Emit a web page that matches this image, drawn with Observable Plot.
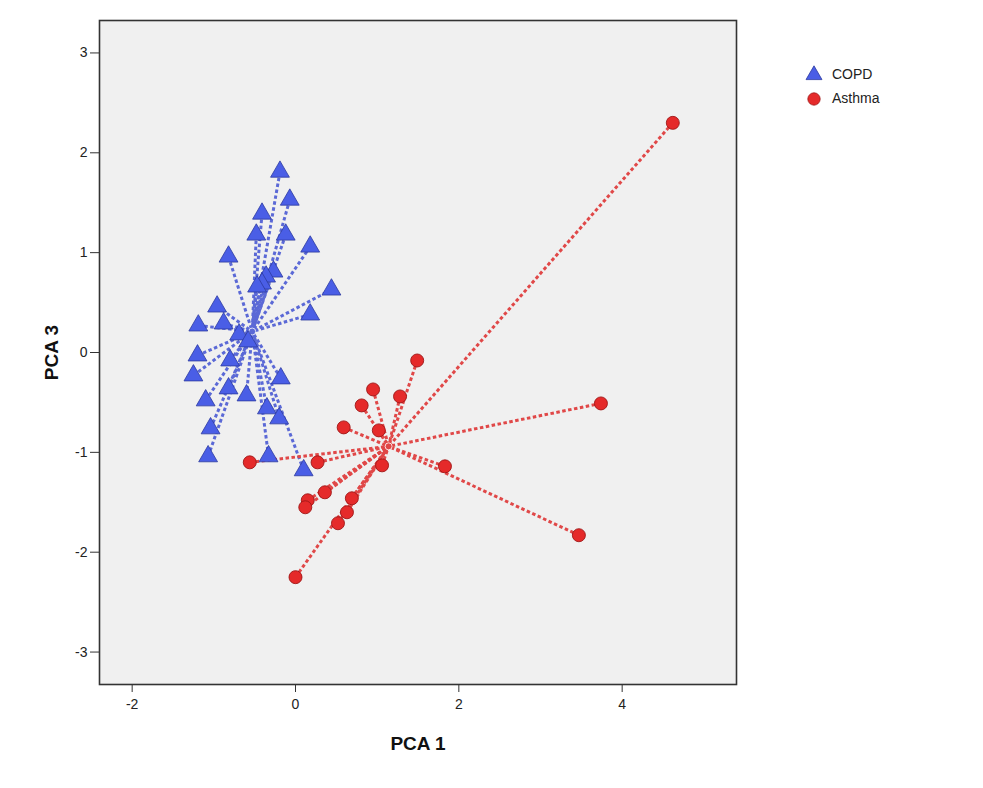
<!DOCTYPE html>
<html>
<head>
<meta charset="utf-8">
<script src="https://cdn.jsdelivr.net/npm/d3@7"></script>
<script src="https://cdn.jsdelivr.net/npm/@observablehq/plot@0.6"></script>
<style>
  html, body { margin: 0; padding: 0; background: #fff; }
  #wrap { position: relative; width: 983px; height: 788px; font-family: Arial, "Liberation Sans", sans-serif; }
  #legend { position: absolute; left: 804px; top: 62px; font-size: 14px; color: #222; }
  #legend .row { display: flex; align-items: center; height: 24px; }
  #legend svg { margin-right: 8px; }
  svg [aria-label="x-axis label"] text, svg [aria-label="y-axis label"] text { font-weight: bold; font-size: 19px; fill: #111; }
</style>
</head>
<body>
<div id="wrap"><div id="chart"></div><div id="legend"></div></div>
<script>
// PCA 1 / PCA 3 scores
const copdX = [-0.19,-0.07,-0.41,-0.48,-0.12,0.18,-0.82,-0.27,-0.36,-0.41,-0.47,0.44,0.18,-0.96,-1.19,-0.88,-0.69,-0.58,-1.20,-0.80,-1.25,-0.18,-0.82,-0.60,-1.10,-0.35,-0.20,-1.04,-1.07,-0.33,0.10];
const copdY = [1.81,1.53,1.39,1.18,1.18,1.06,0.96,0.81,0.76,0.69,0.66,0.63,0.38,0.46,0.27,0.29,0.18,0.11,-0.03,-0.08,-0.23,-0.26,-0.36,-0.43,-0.48,-0.56,-0.66,-0.76,-1.04,-1.04,-1.18];
const asthmaX = [1.49,0.95,1.28,0.81,0.59,1.02,-0.56,0.27,1.06,1.83,0.36,0.15,0.12,0.69,0.63,0.52,0.00,4.62,3.74,3.47];
const asthmaY = [-0.08,-0.37,-0.44,-0.53,-0.75,-0.78,-1.10,-1.10,-1.13,-1.14,-1.40,-1.48,-1.55,-1.46,-1.60,-1.71,-2.25,2.30,-0.51,-1.83];
const groups = ["COPD", "Asthma"];
const centroidX = [-0.53, 1.14];
const centroidY = [0.21, -0.94];
const xTicks = [-2, 0, 2, 4];
const yTicks = [-3, -2, -1, 0, 1, 2, 3];

const colors = { COPD: { fill: "#4a5ee6", stroke: "#2c3aa0", line: "#5b69d6" },
                 Asthma: { fill: "#e52a2a", stroke: "#9e1616", line: "#e04848" } };

const pts = [
  ...copdX.map((x, i) => ({ group: "COPD", x, y: copdY[i], cx: centroidX[0], cy: centroidY[0] })),
  ...asthmaX.map((x, i) => ({ group: "Asthma", x, y: asthmaY[i], cx: centroidX[1], cy: centroidY[1] }))
];
const cents = groups.map((g, i) => ({ group: g, x: centroidX[i], y: centroidY[i] }));
const copd = pts.filter(d => d.group === "COPD");
const asthma = pts.filter(d => d.group === "Asthma");
const fmt = d => String(d);

const chart = Plot.plot({
  width: 983, height: 788,
  marginLeft: 99, marginRight: 247, marginTop: 20, marginBottom: 104,
  style: { fontFamily: "Arial, 'Liberation Sans', sans-serif", fontSize: "14px", color: "#222", background: "#fff" },
  x: { domain: [-2.4, 5.4] },
  y: { domain: [-3.325, 3.325] },
  marks: [
    Plot.frame({ fill: "#f0f0f0", stroke: null }),
    Plot.link(copd, { x1: "x", y1: "y", x2: "cx", y2: "cy", stroke: colors.COPD.line, strokeWidth: 3, strokeDasharray: "3.5,2.5" }),
    Plot.link(asthma, { x1: "x", y1: "y", x2: "cx", y2: "cy", stroke: colors.Asthma.line, strokeWidth: 3, strokeDasharray: "3.5,2.5" }),
    Plot.dot(cents, { x: "x", y: "y", r: 3.5, fill: d => colors[d.group].line, stroke: "#fff", strokeWidth: 0.8 }),
    Plot.dot(copd, { x: "x", y: "y", symbol: "triangle", r: 7, fill: colors.COPD.fill, stroke: colors.COPD.stroke, strokeWidth: 0.8 }),
    Plot.dot(asthma, { x: "x", y: "y", symbol: "circle", r: 6.5, fill: colors.Asthma.fill, stroke: colors.Asthma.stroke, strokeWidth: 0.9 }),
    Plot.frame({ stroke: "#333", strokeWidth: 1.6 }),
    Plot.axisX({ ticks: xTicks, tickFormat: fmt, tickSize: 8, tickPadding: 7, stroke: "#333", fontSize: 14, label: "PCA 1", labelAnchor: "center", labelArrow: "none", labelOffset: 65 }),
    Plot.axisY({ ticks: yTicks, tickFormat: fmt, tickSize: 9, tickPadding: 3, stroke: "#333", fontSize: 14, label: "PCA 3", labelAnchor: "center", labelArrow: "none", labelOffset: 55 })
  ]
});
document.getElementById("chart").appendChild(chart);

// legend
const legend = d3.select("#legend");
groups.forEach(g => {
  const row = legend.append("div").attr("class", "row");
  const s = row.append("svg").attr("width", 20).attr("height", 20);
  const sym = g === "COPD" ? d3.symbol(d3.symbolTriangle, 110) : d3.symbol(d3.symbolCircle, 120);
  s.append("path").attr("d", sym()).attr("transform", "translate(10,11)")
    .attr("fill", colors[g].fill).attr("stroke", colors[g].stroke).attr("stroke-width", 0.8);
  row.append("span").text(g);
});
</script>
</body>
</html>
